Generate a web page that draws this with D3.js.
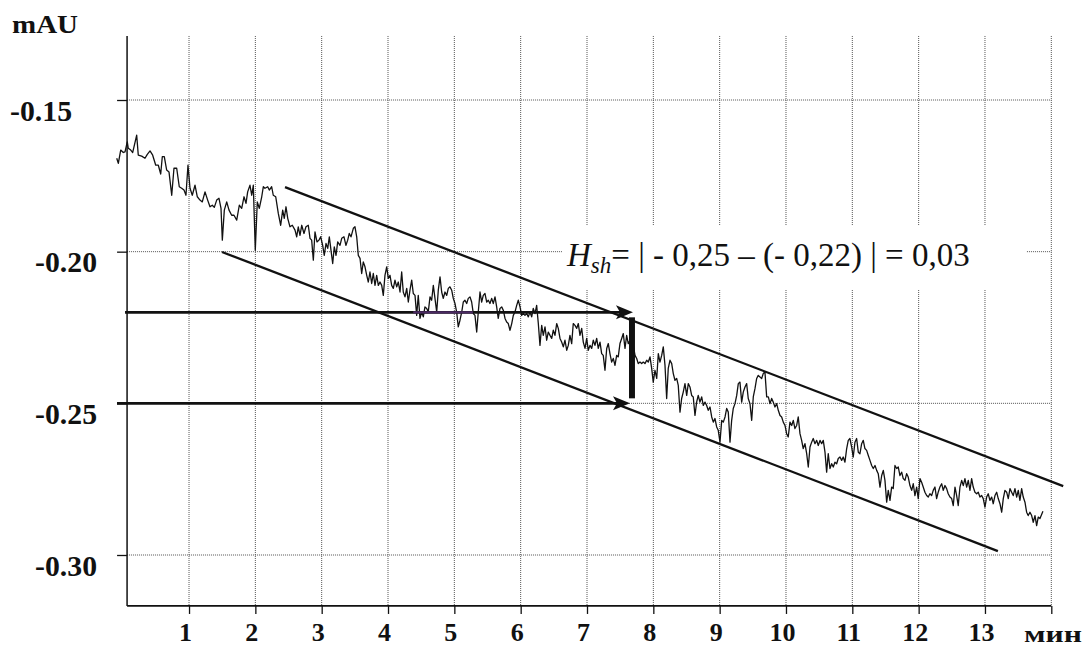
<!DOCTYPE html>
<html>
<head>
<meta charset="utf-8">
<script src="https://cdn.jsdelivr.net/npm/d3@7"></script>
<style>
body{margin:0;background:#fff;}
svg{display:block;}
text{font-family:"Liberation Serif","Times New Roman",serif;fill:#111;}
</style>
</head>
<body>
<div id="canvas"></div>
<script>
// signal (time in min, absorbance)
const traceTime = [
-0.090,-0.066,-0.030,0.009,0.035,0.069,0.084,0.121,0.151,0.211,
0.235,0.286,0.336,0.371,0.412,0.452,0.498,0.537,0.573,0.597,
0.627,0.663,0.698,0.739,0.773,0.814,0.853,0.889,0.924,0.954,
0.984,1.015,1.049,1.090,1.125,1.165,1.200,1.241,1.281,1.316,
1.351,1.381,1.417,1.452,1.482,1.502,1.532,1.568,1.603,1.643,
1.678,1.719,1.758,1.794,1.829,1.859,1.884,1.919,1.945,1.969,
1.999,2.029,2.059,2.096,2.120,2.145,2.186,2.210,2.246,2.270,
2.307,2.346,2.382,2.412,2.436,2.462,2.488,2.522,2.557,2.598,
2.623,2.647,2.673,2.699,2.733,2.763,2.798,2.824,2.849,2.874,
2.899,2.929,2.959,2.985,3.015,3.039,3.065,3.091,3.115,3.140,
3.166,3.190,3.216,3.241,3.276,3.302,3.336,3.366,3.392,3.416,
3.442,3.477,3.502,3.528,3.552,3.578,3.603,3.627,3.653,3.679,
3.703,3.728,3.754,3.778,3.804,3.829,3.854,3.879,3.905,3.929,
3.954,3.980,4.004,4.030,4.055,4.080,4.105,4.131,4.155,4.181,
4.206,4.230,4.256,4.282,4.306,4.331,4.357,4.381,4.407,4.432,
4.456,4.482,4.508,4.532,4.557,4.583,4.607,4.633,4.658,4.683,
4.708,4.734,4.758,4.784,4.809,4.833,4.859,4.885,4.909,4.934,
4.960,4.984,5.010,5.035,5.059,5.085,5.111,5.135,5.160,5.186,
5.210,5.236,5.261,5.286,5.311,5.337,5.361,5.387,5.412,5.436,
5.462,5.488,5.512,5.537,5.563,5.587,5.613,5.638,5.662,5.688,
5.714,5.738,5.764,5.789,5.813,5.839,5.865,5.889,5.914,5.940,
5.964,5.990,6.015,6.039,6.065,6.091,6.115,6.140,6.166,6.190,
6.216,6.241,6.266,6.291,6.317,6.341,6.367,6.392,6.416,6.442,
6.468,6.492,6.517,6.543,6.567,6.593,6.618,6.643,6.668,6.694,
6.718,6.743,6.769,6.793,6.819,6.845,6.869,6.894,6.920,6.944,
6.970,6.995,7.019,7.045,7.071,7.095,7.120,7.146,7.170,7.196,
7.221,7.245,7.271,7.297,7.321,7.346,7.372,7.396,7.422,7.447,
7.471,7.497,7.523,7.547,7.573,7.598,7.622,7.648,7.698,7.724,
7.749,7.773,7.799,7.824,7.849,7.874,7.900,7.924,7.950,7.975,
7.999,8.025,8.051,8.075,8.100,8.126,8.150,8.176,8.201,8.225,
8.251,8.277,8.301,8.326,8.352,8.376,8.402,8.427,8.451,8.477,
8.503,8.527,8.552,8.578,8.602,8.628,8.653,8.677,8.703,8.729,
8.753,8.779,8.804,8.828,8.854,8.880,8.904,8.929,8.955,8.979,
9.005,9.031,9.055,9.081,9.106,9.130,9.156,9.181,9.205,9.231,
9.257,9.281,9.306,9.332,9.356,9.382,9.407,9.431,9.457,9.483,
9.507,9.533,9.558,9.582,9.608,9.633,9.657,9.683,9.709,9.734,
9.759,9.784,9.808,9.834,9.860,9.884,9.910,9.935,9.959,9.985,
10.010,10.034,10.060,10.086,10.110,10.135,10.161,10.185,10.211,10.236,
10.260,10.286,10.312,10.336,10.362,10.387,10.411,10.437,10.463,10.487,
10.513,10.538,10.562,10.588,10.613,10.637,10.663,10.689,10.713,10.738,
10.764,10.788,10.814,10.839,10.863,10.889,10.915,10.939,10.964,10.990,
11.014,11.040,11.065,11.090,11.115,11.141,11.165,11.190,11.216,11.241,
11.266,11.292,11.316,11.342,11.367,11.391,11.417,11.443,11.467,11.492,
11.518,11.542,11.568,11.593,11.617,11.643,11.669,11.693,11.718,11.744,
11.768,11.794,11.819,11.843,11.869,11.895,11.919,11.944,11.970,11.994,
12.020,12.045,12.069,12.095,12.121,12.145,12.170,12.196,12.220,12.246,
12.271,12.295,12.321,12.347,12.371,12.397,12.422,12.446,12.472,12.498,
12.522,12.548,12.573,12.597,12.623,12.649,12.673,12.698,12.724,12.748,
12.774,12.799,12.823,12.849,12.875,12.899,12.924,12.950,12.974,13.000,
13.025,13.049,13.075,13.101,13.125,13.151,13.176,13.200,13.226,13.252,
13.276,13.301,13.327,13.351,13.377,13.402,13.426,13.452,13.478,13.502,
13.527,13.553,13.577,13.603,13.628,13.652,13.678,13.704,13.728,13.754,
13.779,13.803,13.829,13.874];

const traceValue = [
-0.1692,-0.1709,-0.1665,-0.1673,-0.1671,-0.1638,-0.1659,-0.1665,-0.1673,-0.1616,
-0.1682,-0.1685,-0.1692,-0.1679,-0.1668,-0.1682,-0.1715,-0.1715,-0.1744,-0.1687,
-0.1687,-0.1731,-0.1737,-0.1814,-0.1725,-0.1725,-0.1786,-0.1791,-0.1797,-0.1814,
-0.1715,-0.1791,-0.1814,-0.1781,-0.1819,-0.1830,-0.1836,-0.1803,-0.1830,-0.1852,
-0.1847,-0.1854,-0.1830,-0.1824,-0.1857,-0.1962,-0.1863,-0.1836,-0.1863,-0.1880,
-0.1880,-0.1896,-0.1847,-0.1857,-0.1819,-0.1841,-0.1803,-0.1781,-0.1814,-0.1781,
-0.1995,-0.1836,-0.1857,-0.1819,-0.1786,-0.1791,-0.1786,-0.1797,-0.1786,-0.1814,
-0.1819,-0.1874,-0.1913,-0.1863,-0.1890,-0.1852,-0.1890,-0.1918,-0.1913,-0.1929,
-0.1951,-0.1918,-0.1946,-0.1913,-0.1940,-0.1918,-0.1913,-0.1956,-0.1962,-0.2028,
-0.1935,-0.1968,-0.1962,-0.1951,-0.1979,-0.2012,-0.1973,-0.1989,-0.1951,-0.1995,
-0.2039,-0.1984,-0.2012,-0.1968,-0.1979,-0.1956,-0.1951,-0.1979,-0.1962,-0.1940,
-0.1951,-0.1923,-0.1918,-0.1951,-0.2012,-0.2022,-0.2072,-0.2034,-0.2050,-0.2078,
-0.2100,-0.2067,-0.2105,-0.2072,-0.2111,-0.2078,-0.2111,-0.2100,-0.2111,-0.2144,
-0.2078,-0.2050,-0.2088,-0.2078,-0.2111,-0.2121,-0.2094,-0.2116,-0.2100,-0.2133,
-0.2067,-0.2133,-0.2149,-0.2121,-0.2166,-0.2127,-0.2094,-0.2138,-0.2144,-0.2210,
-0.2144,-0.2220,-0.2199,-0.2215,-0.2182,-0.2187,-0.2199,-0.2149,-0.2160,-0.2111,
-0.2154,-0.2199,-0.2127,-0.2083,-0.2133,-0.2154,-0.2133,-0.2144,-0.2121,-0.2116,
-0.2127,-0.2154,-0.2171,-0.2199,-0.2248,-0.2226,-0.2199,-0.2166,-0.2160,-0.2171,
-0.2154,-0.2149,-0.2166,-0.2204,-0.2210,-0.2265,-0.2199,-0.2133,-0.2166,-0.2144,
-0.2138,-0.2166,-0.2160,-0.2171,-0.2154,-0.2171,-0.2149,-0.2182,-0.2220,-0.2187,
-0.2182,-0.2193,-0.2220,-0.2232,-0.2237,-0.2259,-0.2237,-0.2210,-0.2199,-0.2177,
-0.2160,-0.2182,-0.2210,-0.2204,-0.2210,-0.2204,-0.2215,-0.2199,-0.2215,-0.2187,
-0.2204,-0.2177,-0.2237,-0.2309,-0.2243,-0.2276,-0.2248,-0.2292,-0.2265,-0.2276,
-0.2286,-0.2259,-0.2276,-0.2237,-0.2253,-0.2286,-0.2298,-0.2314,-0.2292,-0.2325,
-0.2309,-0.2276,-0.2303,-0.2237,-0.2243,-0.2253,-0.2237,-0.2276,-0.2253,-0.2298,
-0.2319,-0.2286,-0.2325,-0.2309,-0.2319,-0.2292,-0.2309,-0.2286,-0.2319,-0.2298,
-0.2336,-0.2342,-0.2391,-0.2319,-0.2303,-0.2336,-0.2364,-0.2352,-0.2375,-0.2342,
-0.2347,-0.2303,-0.2286,-0.2270,-0.2319,-0.2276,-0.2303,-0.2292,-0.2309,-0.2342,
-0.2352,-0.2369,-0.2364,-0.2369,-0.2364,-0.2369,-0.2358,-0.2364,-0.2347,-0.2385,
-0.2430,-0.2391,-0.2418,-0.2336,-0.2364,-0.2342,-0.2314,-0.2375,-0.2484,-0.2385,
-0.2358,-0.2369,-0.2402,-0.2424,-0.2418,-0.2441,-0.2529,-0.2484,-0.2463,-0.2435,
-0.2474,-0.2435,-0.2446,-0.2474,-0.2479,-0.2540,-0.2496,-0.2474,-0.2496,-0.2479,
-0.2507,-0.2496,-0.2507,-0.2523,-0.2512,-0.2545,-0.2562,-0.2550,-0.2578,-0.2589,
-0.2628,-0.2556,-0.2562,-0.2545,-0.2517,-0.2529,-0.2628,-0.2556,-0.2517,-0.2501,
-0.2474,-0.2435,-0.2430,-0.2496,-0.2463,-0.2446,-0.2435,-0.2484,-0.2501,-0.2556,
-0.2479,-0.2451,-0.2418,-0.2408,-0.2413,-0.2418,-0.2402,-0.2397,-0.2479,-0.2479,
-0.2501,-0.2484,-0.2496,-0.2512,-0.2501,-0.2523,-0.2540,-0.2545,-0.2562,-0.2573,
-0.2600,-0.2611,-0.2562,-0.2573,-0.2556,-0.2583,-0.2573,-0.2545,-0.2600,-0.2622,
-0.2649,-0.2633,-0.2666,-0.2710,-0.2644,-0.2628,-0.2616,-0.2633,-0.2622,-0.2639,
-0.2622,-0.2633,-0.2622,-0.2661,-0.2727,-0.2666,-0.2715,-0.2699,-0.2710,-0.2694,
-0.2699,-0.2682,-0.2677,-0.2688,-0.2677,-0.2694,-0.2649,-0.2622,-0.2616,-0.2644,
-0.2677,-0.2628,-0.2616,-0.2661,-0.2666,-0.2633,-0.2622,-0.2649,-0.2655,-0.2672,
-0.2688,-0.2705,-0.2715,-0.2705,-0.2721,-0.2732,-0.2776,-0.2738,-0.2721,-0.2754,
-0.2826,-0.2787,-0.2820,-0.2776,-0.2781,-0.2705,-0.2715,-0.2710,-0.2738,-0.2727,
-0.2748,-0.2754,-0.2732,-0.2743,-0.2771,-0.2787,-0.2765,-0.2804,-0.2776,-0.2814,
-0.2748,-0.2760,-0.2776,-0.2793,-0.2804,-0.2809,-0.2798,-0.2804,-0.2787,-0.2776,
-0.2814,-0.2793,-0.2776,-0.2765,-0.2787,-0.2771,-0.2781,-0.2798,-0.2809,-0.2814,
-0.2837,-0.2776,-0.2804,-0.2837,-0.2776,-0.2754,-0.2771,-0.2748,-0.2776,-0.2754,
-0.2787,-0.2748,-0.2776,-0.2793,-0.2798,-0.2793,-0.2809,-0.2804,-0.2814,-0.2842,
-0.2809,-0.2798,-0.2820,-0.2809,-0.2831,-0.2804,-0.2793,-0.2814,-0.2831,-0.2859,
-0.2814,-0.2787,-0.2793,-0.2814,-0.2781,-0.2793,-0.2804,-0.2781,-0.2809,-0.2787,
-0.2820,-0.2781,-0.2809,-0.2826,-0.2859,-0.2870,-0.2859,-0.2870,-0.2892,-0.2870,
-0.2903,-0.2875,-0.2880,-0.2856];

const xTicks = [1,2,3,4,5,6,7,8,9,10,11,12,13,14];
const xTickLabels = ["1","2","3","4","5","6","7","8","9","10","11","12","13",""];
const yTicks = [-0.15,-0.20,-0.25,-0.30];
const yTickLabels = ["-0.15","-0.20","-0.25","-0.30"];

// drift channel (start / end points)
const upperBand = [[2.447,-0.1787],[14.18,-0.2773]];
const lowerBand = [[1.497,-0.2001],[13.195,-0.2987]];

// levels used for the shift estimate
const levels = [-0.22,-0.25];
const levelStart = [0.035,-0.086];
const levelEnd = [7.693,7.648];
const shiftTime = 7.678;

const W = 1089, H = 649;
const xOrigin = 0.066;              // where the y axis sits
const yLow = -0.3168, yHigh = -0.1289;

const x = d3.scaleLinear().domain([0,14]).range([122.7,1051.3]);
const y = d3.scaleLinear().domain([-0.15,-0.30]).range([100,555]);

const svg = d3.select('#canvas').append('svg')
	.attr('width', W)
	.attr('height', H);

// dotted grid
const grid = svg.append('g').attr('class','grid')
	.style('stroke','#555')
	.style('stroke-width',1)
	.style('stroke-dasharray','1,1');

grid.selectAll('.vg').data(xTicks).enter().append('line')
	.attr('x1', d => x(d)).attr('x2', d => x(d))
	.attr('y1', y(yHigh)).attr('y2', y(yLow));

grid.selectAll('.hg').data(yTicks).enter().append('line')
	.attr('x1', x(xOrigin)).attr('x2', x(14))
	.attr('y1', d => y(d)).attr('y2', d => y(d));

// white box behind the formula
svg.append('rect')
	.attr('x',562).attr('y',226)
	.attr('width',464).attr('height',64)
	.style('fill','#fff');

// channel lines
svg.selectAll('.band').data([upperBand, lowerBand]).enter().append('line')
	.attr('class','band')
	.attr('x1', d => x(d[0][0])).attr('y1', d => y(d[0][1]))
	.attr('x2', d => x(d[1][0])).attr('y2', d => y(d[1][1]))
	.style('stroke','#111')
	.style('stroke-width',2.3);

// signal
const line = d3.line()
	.x(i => x(traceTime[i]))
	.y(i => y(traceValue[i]));

svg.append('path')
	.datum(d3.range(traceTime.length))
	.attr('d', line)
	.style('fill','none')
	.style('stroke','#111')
	.style('stroke-width',1.3)
	.style('stroke-linejoin','round');

// level arrows
svg.selectAll('.level').data(levels).enter().append('line')
	.attr('class','level')
	.attr('x1', (d,i) => x(levelStart[i]))
	.attr('x2', (d,i) => x(levelEnd[i]) - 10)
	.attr('y1', d => y(d)).attr('y2', d => y(d))
	.style('stroke','#111')
	.style('stroke-width',2.6);

svg.append('line')
	.attr('x1', x(4.38)).attr('x2', x(5.28))
	.attr('y1', y(levels[0])).attr('y2', y(levels[0]))
	.style('stroke','#4b2a63')
	.style('stroke-width',2.4);

svg.selectAll('.head').data(levels).enter().append('path')
	.attr('class','head')
	.attr('d', (d,i) => {
		let tx = x(levelEnd[i]), ty = y(d);
		return 'M'+tx+','+ty+' L'+(tx-17)+','+(ty-7)+' L'+(tx-13)+','+ty+' L'+(tx-17)+','+(ty+7)+'Z';
	})
	.style('fill','#111');

svg.append('line')
	.attr('x1', x(shiftTime)).attr('x2', x(shiftTime))
	.attr('y1', y(levels[0]) + 5).attr('y2', y(levels[1]) - 5)
	.style('stroke','#111')
	.style('stroke-width',6);

// axes
const xAxis = d3.axisBottom(x)
	.tickValues(xTicks)
	.tickSize(8)
	.tickFormat((d,i) => xTickLabels[i]);

const gx = svg.append('g')
	.attr('transform','translate(0,'+y(yLow)+')')
	.call(xAxis)
	.attr('font-family',null).attr('font-size',null);
gx.select('.domain').remove();
gx.selectAll('.tick line').style('stroke','#111').style('stroke-width',1.3);
gx.selectAll('.tick text')
	.attr('x',-4).attr('y',35).attr('dy',null)
	.style('font-size','26px').style('font-weight','bold')
	.style('fill','#111');

const yAxis = d3.axisLeft(y)
	.tickValues(yTicks)
	.tickSize(10)
	.tickFormat((d,i) => yTickLabels[i]);

const gy = svg.append('g')
	.attr('transform','translate('+x(xOrigin)+',0)')
	.call(yAxis)
	.attr('font-family',null).attr('font-size',null);
gy.select('.domain').remove();
gy.selectAll('.tick line').style('stroke','#111').style('stroke-width',1.3);
gy.selectAll('.tick text')
	.attr('text-anchor','start')
	.attr('x',(d,i) => i === 0 ? -117 : -92)
	.attr('y',20).attr('dy',null)
	.attr('textLength',62).attr('lengthAdjust','spacingAndGlyphs')
	.style('font-size','29px').style('font-weight','bold')
	.style('fill','#111');

svg.append('line')
	.attr('x1', x(xOrigin)).attr('x2', x(xOrigin))
	.attr('y1', y(yHigh)).attr('y2', y(yLow))
	.style('stroke','#111').style('stroke-width',1.5);
svg.append('line')
	.attr('x1', x(xOrigin)).attr('x2', x(14))
	.attr('y1', y(yLow)).attr('y2', y(yLow))
	.style('stroke','#111').style('stroke-width',1.8);

// axis titles
svg.append('text')
	.attr('x',12).attr('y',33)
	.attr('textLength',66).attr('lengthAdjust','spacingAndGlyphs')
	.style('font-size','26px').style('font-weight','bold')
	.text('mAU');

svg.append('text')
	.attr('x',1024).attr('y',642)
	.attr('textLength',58).attr('lengthAdjust','spacingAndGlyphs')
	.style('font-size','24px').style('font-weight','bold')
	.text('мин');

// formula
const fmt = v => Math.abs(v).toFixed(2).replace('.',',');
const shift = Math.abs(levels[1] - levels[0]);
const formula = svg.append('text')
	.attr('x',567).attr('y',266)
	.style('font-size','33px');
formula.append('tspan').style('font-style','italic').text('H');
formula.append('tspan').style('font-style','italic').style('font-size','23px')
	.attr('dy',7).text('sh');
formula.append('tspan').attr('dy',-7)
	.text('= | - ' + fmt(levels[1]) + ' \u2013 (- ' + fmt(levels[0]) + ') | = ' + fmt(shift));
</script>
</body>
</html>
